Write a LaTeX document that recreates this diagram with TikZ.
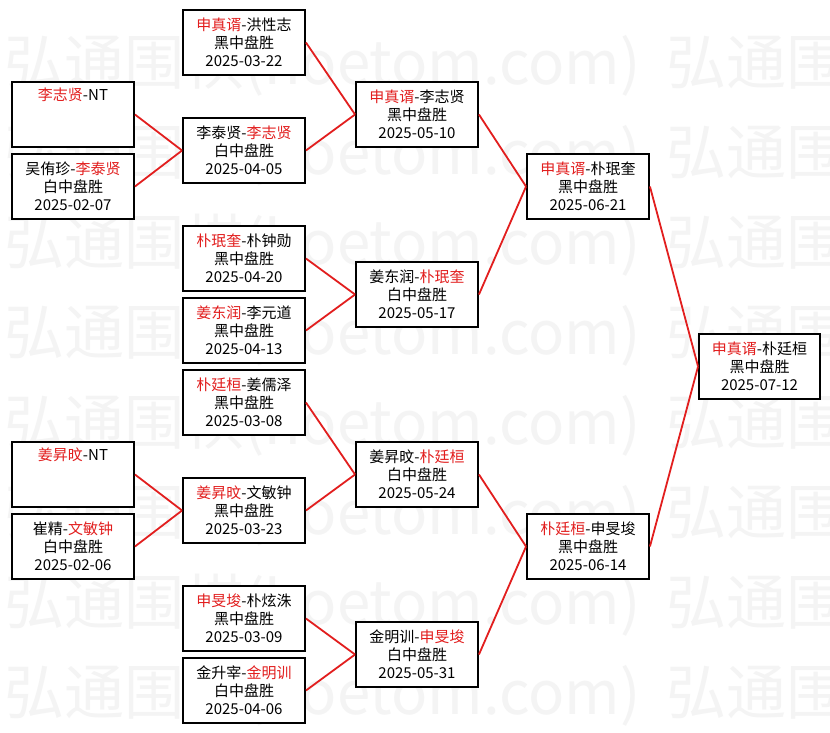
\documentclass[tikz,border=0pt]{standalone}
\usepackage{fontspec}
\setmainfont{Noto Sans CJK SC}
\usepackage{tikz}
\definecolor{winred}{RGB}{226,30,30}
\definecolor{wmgray}{RGB}{244,244,244}
\newcommand{\win}[1]{\textcolor{winred}{#1}}
\newcommand{\game}[3]{#1\\#2\\#3}
\newcommand{\bye}[1]{#1\\\strut\\\strut}

\begin{document}
\begin{tikzpicture}[x=1pt, y=-1pt,
    game/.style={draw, line width=1.9pt, fill=white, align=center,
      font=\fontsize{15}{18}\selectfont,
      minimum width=122pt, minimum height=65pt, inner sep=0pt},
    link/.style={draw=winred, line width=1.8pt},
    mark text/.style={font=\fontsize{60}{64}\selectfont, text=wmgray,
      anchor=west, inner sep=0pt}]
      \useasboundingbox (0,0) rectangle (830,733);
      \fill[white] (0,0) rectangle (830,733);
      % watermark
      \begin{scope}
        \clip (0,0) rectangle (830,733);
        \foreach \r in {0,...,7}
          \foreach \c in {0,1}
            \node[mark text] (wm\r\c) at (4+662*\c, 65+90*\r) {弘通围棋(hoetom.com)};
      \end{scope}
      % first column
      \node[game] (q1) at (73, 114.5) {\bye{\win{李志贤}-NT}};
      \node[game] (q2) at (73, 186.5) {\game{吴侑珍-\win{李泰贤}}{白中盘胜}{2025-02-07}};
      \node[game] (q3) at (73, 474.5) {\bye{\win{姜昇旼}-NT}};
      \node[game] (q4) at (73, 546.5) {\game{崔精-\win{文敏钟}}{白中盘胜}{2025-02-06}};
      % second column
      \node[game] (p1) at (244, 42.5) {\game{\win{申真谞}-洪性志}{黑中盘胜}{2025-03-22}};
      \node[game] (p2) at (244, 150.5) {\game{李泰贤-\win{李志贤}}{白中盘胜}{2025-04-05}};
      \node[game] (p3) at (244, 258.5) {\game{\win{朴珉奎}-朴钟勋}{黑中盘胜}{2025-04-20}};
      \node[game] (p4) at (244, 330.5) {\game{\win{姜东润}-李元道}{黑中盘胜}{2025-04-13}};
      \node[game] (p5) at (244, 402.5) {\game{\win{朴廷桓}-姜儒泽}{黑中盘胜}{2025-03-08}};
      \node[game] (p6) at (244, 510.5) {\game{\win{姜昇旼}-文敏钟}{黑中盘胜}{2025-03-23}};
      \node[game] (p7) at (244, 618.5) {\game{\win{申旻埈}-朴炫洙}{黑中盘胜}{2025-03-09}};
      \node[game] (p8) at (244, 690.5) {\game{金升宰-\win{金明训}}{白中盘胜}{2025-04-06}};
      % third column
      \node[game] (qf1) at (417, 114.5) {\game{\win{申真谞}-李志贤}{黑中盘胜}{2025-05-10}};
      \node[game] (qf2) at (417, 294.5) {\game{姜东润-\win{朴珉奎}}{白中盘胜}{2025-05-17}};
      \node[game] (qf3) at (417, 474.5) {\game{姜昇旼-\win{朴廷桓}}{白中盘胜}{2025-05-24}};
      \node[game] (qf4) at (417, 654.5) {\game{金明训-\win{申旻埈}}{白中盘胜}{2025-05-31}};
      % semi finals and final
      \node[game] (sf1) at (588, 186.5) {\game{\win{申真谞}-朴珉奎}{黑中盘胜}{2025-06-21}};
      \node[game] (sf2) at (588, 546.5) {\game{\win{朴廷桓}-申旻埈}{黑中盘胜}{2025-06-14}};
      \node[game, minimum width=121pt] (fin) at (759.5, 366.5) {\game{\win{申真谞}-朴廷桓}{黑中盘胜}{2025-07-12}};
      \draw[link] (q1.east) to (p2.west);
      \draw[link] (q2.east) to (p2.west);
      \draw[link] (q3.east) to (p6.west);
      \draw[link] (q4.east) to (p6.west);
      \draw[link] (p1.east) to (qf1.west);
      \draw[link] (p2.east) to (qf1.west);
      \draw[link] (p3.east) to (qf2.west);
      \draw[link] (p4.east) to (qf2.west);
      \draw[link] (p5.east) to (qf3.west);
      \draw[link] (p6.east) to (qf3.west);
      \draw[link] (p7.east) to (qf4.west);
      \draw[link] (p8.east) to (qf4.west);
      \draw[link] (qf1.east) to (sf1.west);
      \draw[link] (qf2.east) to (sf1.west);
      \draw[link] (qf3.east) to (sf2.west);
      \draw[link] (qf4.east) to (sf2.west);
      \draw[link] (sf1.east) to (fin.west);
      \draw[link] (sf2.east) to (fin.west);
    \end{tikzpicture}
\end{document}
